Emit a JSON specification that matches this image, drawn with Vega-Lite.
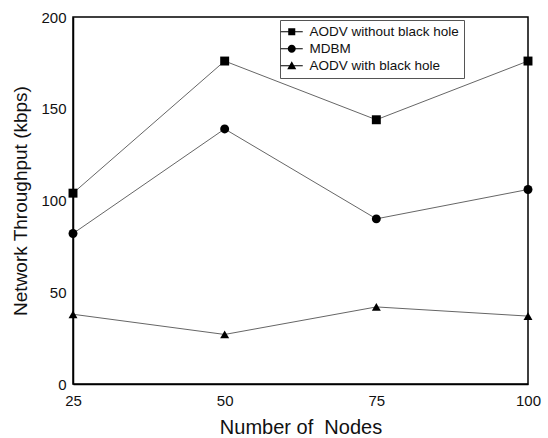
{
  "$schema": "https://vega.github.io/schema/vega-lite/v6.json",
  "width": 455,
  "height": 367,
  "autosize": {"type": "none"},
  "padding": {"left": 73, "top": 17, "right": 20, "bottom": 54},
  "background": "white",
  "config": {
    "view": {"stroke": "black", "strokeWidth": 1.5},
    "font": "Liberation Sans"
  },
  "data": {
    "values": [
      {"nodes": 25, "throughput": 104, "series": "AODV without black hole"},
      {"nodes": 50, "throughput": 176, "series": "AODV without black hole"},
      {"nodes": 75, "throughput": 144, "series": "AODV without black hole"},
      {"nodes": 100, "throughput": 176, "series": "AODV without black hole"},
      {"nodes": 25, "throughput": 82, "series": "MDBM"},
      {"nodes": 50, "throughput": 139, "series": "MDBM"},
      {"nodes": 75, "throughput": 90, "series": "MDBM"},
      {"nodes": 100, "throughput": 106, "series": "MDBM"},
      {"nodes": 25, "throughput": 38, "series": "AODV with black hole"},
      {"nodes": 50, "throughput": 27, "series": "AODV with black hole"},
      {"nodes": 75, "throughput": 42, "series": "AODV with black hole"},
      {"nodes": 100, "throughput": 37, "series": "AODV with black hole"}
    ]
  },
  "encoding": {
    "x": {
      "field": "nodes", "type": "quantitative",
      "scale": {"domain": [25, 100], "nice": false, "zero": false},
      "axis": {
        "title": "Number of\u00a0 Nodes", "values": [25, 50, 75, 100], "grid": false, "ticks": false,
        "domainColor": "black", "domainWidth": 1.5,
        "labelFont": "Liberation Sans", "labelFontSize": 15, "labelColor": "#111", "labelPadding": 9,
        "labelFlush": false,
        "titleFont": "Liberation Sans", "titleFontSize": 20, "titleFontWeight": "normal", "titleColor": "#111", "titlePadding": 9
      }
    },
    "y": {
      "field": "throughput", "type": "quantitative",
      "scale": {"domain": [0, 200], "nice": false},
      "axis": {
        "title": "Network Throughput (kbps)", "values": [0, 50, 100, 150, 200], "grid": false, "ticks": false,
        "domainColor": "black", "domainWidth": 1.5,
        "labelFont": "Liberation Sans", "labelFontSize": 15, "labelColor": "#111", "labelPadding": 7,
        "titleFont": "Liberation Sans", "titleFontSize": 19, "titleFontWeight": "normal", "titleColor": "#111", "titlePadding": 10
      }
    }
  },
  "resolve": {"scale": {"shape": "independent"}, "legend": {"shape": "independent"}},
  "layer": [
    {
      "mark": {"type": "line", "color": "#666", "strokeWidth": 1},
      "encoding": {"detail": {"field": "series"}}
    },
    {
      "mark": {"type": "point", "filled": true, "color": "black", "opacity": 1, "size": 80},
      "encoding": {
        "shape": {
          "field": "series", "type": "nominal",
          "scale": {
            "domain": ["AODV without black hole", "MDBM", "AODV with black hole"],
            "range": ["square", "circle", "triangle-up"]
          },
          "legend": null
        }
      }
    },
    {
      "transform": [{"filter": "false"}],
      "mark": {"type": "point", "filled": true, "color": "black", "opacity": 1, "size": 121},
      "encoding": {
        "shape": {
          "field": "series", "type": "nominal",
          "scale": {
            "domain": ["AODV without black hole", "MDBM", "AODV with black hole"],
            "range": [
              "M-2,-0.1H2V0.1H-2ZM-0.64,-0.64H0.64V0.64H-0.64Z",
              "M-2,-0.1H2V0.1H-2ZM-0.73,0A0.73,0.73,0,1,1,0.73,0A0.73,0.73,0,1,1,-0.73,0Z",
              "M-2,-0.1H2V0.1H-2ZM0,-0.8L0.82,0.62H-0.82Z"
            ]
          },
          "legend": {
            "title": null,
            "orient": "none",
            "legendX": 207,
            "legendY": 3,
            "strokeColor": "#555",
            "padding": 5,
            "rowPadding": 2,
            "symbolSize": 121,
            "symbolFillColor": "black",
            "symbolStrokeWidth": 0,
            "symbolOpacity": 1,
            "labelFont": "Liberation Sans",
            "labelFontSize": 13.5,
            "labelColor": "#111",
            "labelOffset": 11,
            "labelLimit": 300
          }
        }
      }
    }
  ]
}
